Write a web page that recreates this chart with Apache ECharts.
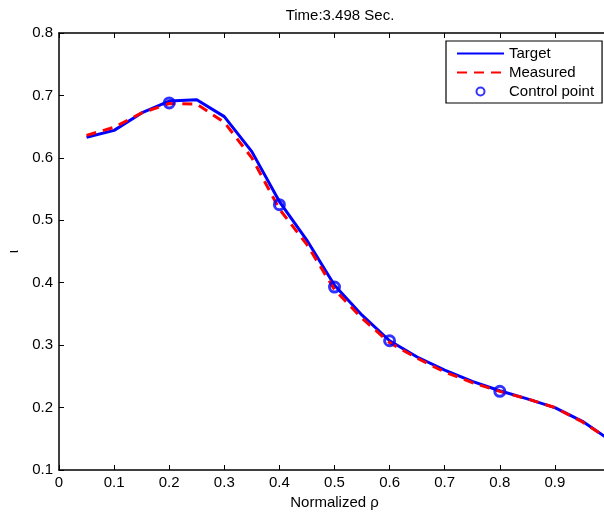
<!DOCTYPE html>
<html>
<head>
<meta charset="utf-8">
<script src="https://cdn.jsdelivr.net/npm/echarts@6/dist/echarts.min.js"></script>
<style>html,body{margin:0;padding:0;background:#fff;}#c{width:604px;height:512px;}</style>
</head>
<body>
<div id="c"></div>
<script>
const rho = [0.05,0.1,0.15,0.2,0.25,0.3,0.35,0.4,0.45,0.5,0.55,0.6,0.65,0.7,0.75,0.8,0.85,0.9,0.95,1.0];
const target = [0.633,0.644,0.672,0.691,0.693,0.666,0.610,0.530,0.468,0.396,0.348,0.307,0.281,0.260,0.242,0.227,0.214,0.200,0.178,0.148];
const measured = [0.636,0.649,0.672,0.687,0.686,0.657,0.600,0.518,0.461,0.389,0.343,0.304,0.279,0.257,0.240,0.226,0.214,0.200,0.177,0.148];
const ctrlX = [0.2,0.4,0.5,0.6,0.8];
const ctrlY = [0.688,0.525,0.393,0.307,0.226];
const xTicks = ['0','0.1','0.2','0.3','0.4','0.5','0.6','0.7','0.8','0.9','1'];
const yTicks = ['0.1','0.2','0.3','0.4','0.5','0.6','0.7','0.8'];
const titleText = 'Time:3.498 Sec.';
const xName = 'Normalized ρ';
const yName = 'ι';

const font = 'Liberation Sans, Arial, Helvetica, sans-serif';
const chart = echarts.init(document.getElementById('c'), null, {renderer:'canvas'});
const zip = (a,b) => a.map((v,i)=>[v,b[i]]);
chart.setOption({
  animation:false,
  backgroundColor:'#fff',
  title:{text:titleText,left:335,top:3,textAlign:'center',textStyle:{fontFamily:font,fontSize:15,fontWeight:'normal',color:'#000'}},
  grid:{left:59,top:33,width:551,height:437,containLabel:false,outerBoundsMode:'none'},
  legend:{
    orient:'vertical',left:446,top:41,
    itemWidth:47,itemHeight:8,itemGap:4,
    padding:[5,8,4,10],
    borderColor:'#000',borderWidth:1.2,backgroundColor:'#fff',
    textStyle:{fontFamily:font,fontSize:15,color:'#000',lineHeight:15},
    data:[
      {name:'Target',itemStyle:{opacity:0}},
      {name:'Measured',itemStyle:{opacity:0}},
      {name:'Control point'}
    ]
  },
  xAxis:[{
    type:'value',min:0,max:1,interval:0.1,
    name:xName,nameLocation:'middle',nameGap:25,
    nameTextStyle:{fontFamily:font,fontSize:15,color:'#000'},
    axisLine:{lineStyle:{color:'#000',width:1.5}},
    axisTick:{inside:true,length:5,lineStyle:{color:'#000'}},
    axisLabel:{fontFamily:font,fontSize:15,color:'#000',margin:5,formatter:(v)=>xTicks[Math.round(v*10)]},
    splitLine:{show:false}
  },{
    type:'value',min:0,max:1,interval:0.1,position:'top',
    axisLine:{lineStyle:{color:'#000',width:1.5}},
    axisTick:{inside:true,length:5,lineStyle:{color:'#000'}},
    axisLabel:{show:false},splitLine:{show:false}
  }],
  yAxis:{
    type:'value',min:0.1,max:0.8,interval:0.1,
    name:yName,nameLocation:'middle',nameGap:34,nameRotate:90,
    nameTextStyle:{fontFamily:font,fontSize:15,color:'#000'},
    axisLine:{lineStyle:{color:'#000',width:1.5}},
    axisTick:{inside:true,length:5,lineStyle:{color:'#000'}},
    axisLabel:{fontFamily:font,fontSize:15,color:'#000',margin:6,formatter:(v)=>yTicks[Math.round(v*10)-1]},
    splitLine:{show:false}
  },
  series:[
    {name:'Target',type:'line',data:zip(rho,target),symbol:'none',
     lineStyle:{color:'#0000ff',width:3},itemStyle:{color:'#0000ff'},z:2},
    {name:'Measured',type:'line',data:zip(rho,measured),symbol:'none',
     lineStyle:{color:'#ff0000',width:3,type:[10,7]},itemStyle:{color:'#ff0000'},z:3},
    {name:'Control point',type:'scatter',data:zip(ctrlX,ctrlY),symbol:'circle',symbolSize:10,
     itemStyle:{color:'transparent',borderColor:'#0000ff',borderWidth:3},z:4}
  ]
});
</script>
</body>
</html>
